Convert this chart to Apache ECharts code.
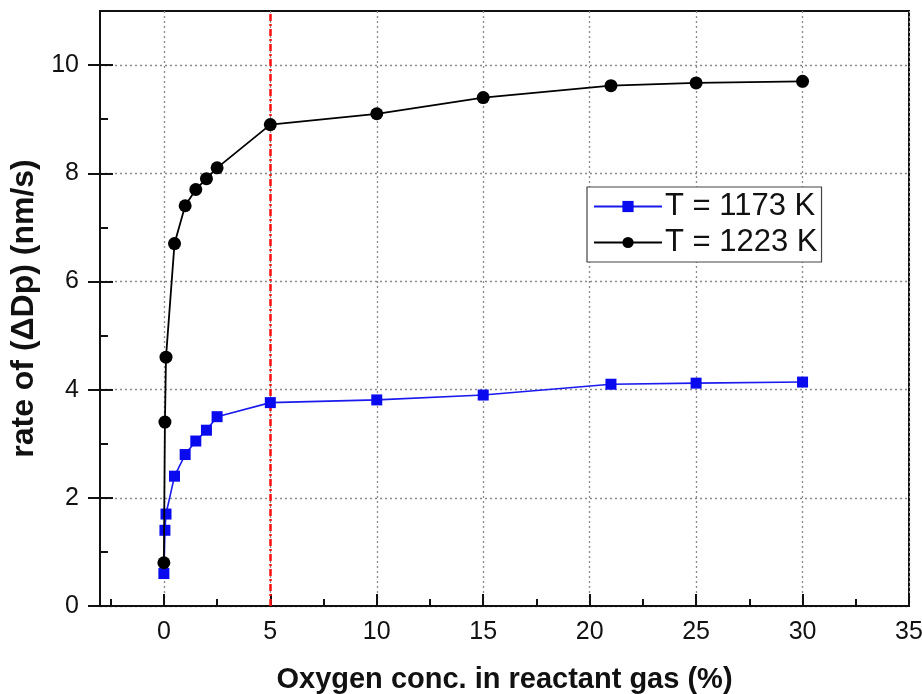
<!DOCTYPE html>
<html>
<head>
<meta charset="utf-8">
<script src="https://cdn.jsdelivr.net/npm/echarts@6/dist/echarts.min.js"></script>
<style>
  html, body { margin: 0; padding: 0; background: #fff; }
  #chart { width: 922px; height: 694px; }
</style>
</head>
<body>
<div id="chart"></div>
<script>
// Oxygen concentration (%) for each measured point
const oxygen = [0, 0.05, 0.1, 0.5, 1, 1.5, 2, 2.5, 5, 10, 15, 21, 25, 30];
// Growth rate of ΔDp (nm/s) at each temperature
const rate1173 = [0.6, 1.4, 1.7, 2.4, 2.8, 3.05, 3.25, 3.5, 3.76, 3.81, 3.9, 4.1, 4.12, 4.14];
const rate1223 = [0.8, 3.4, 4.6, 6.7, 7.4, 7.7, 7.9, 8.1, 8.9, 9.1, 9.4, 9.62, 9.67, 9.7];
const seriesNames = ['T = 1173 K', 'T = 1223 K'];
// Axis ticks
const xMajorTicks = [0, 5, 10, 15, 20, 25, 30, 35];
const xMinorTicks = [-2.5, 2.5, 7.5, 12.5, 17.5, 22.5, 27.5, 32.5];
const yMajorTicks = [0, 2, 4, 6, 8, 10];
const yMinorTicks = [1, 3, 5, 7, 9];
const markerX = 5;

const FONT = 'Liberation Sans, Arial, sans-serif';
const gridRect = { left: 100, top: 11, right: 13, bottom: 88, outerBoundsMode: 'none', containLabel: false };
const X_MIN = -3, X_MAX = 35, Y_MIN = 0, Y_MAX = 11;

const toPairs = (xs, ys) => xs.map((x, i) => [x, ys[i]]);
const dotted = { color: '#8a8a8a', width: 1.3, type: [2, 3] };
const noLine = { show: false, onZero: false };
const hiddenX = (grid) => ({
  gridIndex: grid, type: 'value', min: X_MIN, max: X_MAX,
  axisLine: noLine, axisTick: { show: false },
  axisLabel: { show: false }, splitLine: { show: false }
});

const chart = echarts.init(document.getElementById('chart'), null, { renderer: 'canvas' });

chart.setOption({
  animation: false,
  backgroundColor: '#fff',
  textStyle: { fontFamily: FONT },
  grid: [
    Object.assign({ show: true, borderColor: '#111', borderWidth: 2, backgroundColor: 'transparent' }, gridRect),
    Object.assign({}, gridRect),
    Object.assign({}, gridRect)
  ],
  xAxis: [
    {
      gridIndex: 0, type: 'value', min: X_MIN, max: X_MAX,
      name: 'Oxygen conc. in reactant gas (%)',
      nameLocation: 'middle', nameGap: 59,
      nameTextStyle: { fontFamily: FONT, fontSize: 29, fontWeight: 'bold', color: '#111' },
      axisLine: { show: true, onZero: false, lineStyle: { color: '#111', width: 2 } },
      axisTick: { show: true, inside: true, length: 12, customValues: xMajorTicks, lineStyle: { color: '#111', width: 2 } },
      axisLabel: { show: true, customValues: xMajorTicks, fontFamily: FONT, fontSize: 25, color: '#111', margin: 14 },
      splitLine: { show: true, lineStyle: dotted }
    },
    {
      gridIndex: 1, type: 'value', min: X_MIN, max: X_MAX,
      axisLine: noLine,
      axisTick: { show: true, inside: true, length: 7, customValues: xMinorTicks, lineStyle: { color: '#111', width: 2 } },
      axisLabel: { show: false }, splitLine: { show: false }
    },
    hiddenX(2)
  ],
  yAxis: [
    {
      gridIndex: 0, type: 'value', min: Y_MIN, max: Y_MAX,
      name: 'rate of (ΔDp) (nm/s)',
      nameLocation: 'middle', nameGap: 53, nameRotate: 90,
      nameTextStyle: { fontFamily: FONT, fontSize: 32, fontWeight: 'bold', color: '#111' },
      axisLine: { show: true, onZero: false, lineStyle: { color: '#111', width: 2 } },
      axisTick: { show: true, inside: false, length: 12, customValues: yMajorTicks, lineStyle: { color: '#111', width: 2 } },
      axisLabel: { show: true, customValues: yMajorTicks, fontFamily: FONT, fontSize: 25, color: '#111', margin: 21 },
      splitLine: { show: true, lineStyle: dotted }
    },
    {
      gridIndex: 1, type: 'value', min: Y_MIN, max: Y_MAX,
      axisLine: noLine,
      axisTick: { show: true, inside: true, length: 13, customValues: yMajorTicks, lineStyle: { color: '#111', width: 2 } },
      axisLabel: { show: false }, splitLine: { show: false }
    },
    {
      gridIndex: 2, type: 'value', min: Y_MIN, max: Y_MAX,
      axisLine: noLine,
      axisTick: { show: true, inside: true, length: 8, customValues: yMinorTicks, lineStyle: { color: '#111', width: 2 } },
      axisLabel: { show: false }, splitLine: { show: false }
    }
  ],
  legend: {
    left: 587, top: 187,
    orient: 'vertical',
    data: seriesNames,
    backgroundColor: '#fff',
    borderColor: '#444', borderWidth: 1.2, borderRadius: 0,
    padding: [4, 4, 4, 6],
    itemWidth: 68, itemHeight: 14, itemGap: 5,
    textStyle: { fontFamily: FONT, fontSize: 31, color: '#111', padding: [0, 0, 0, -2] }
  },
  series: [
    {
      name: seriesNames[0], type: 'line',
      xAxisIndex: 0, yAxisIndex: 0,
      data: toPairs(oxygen, rate1173),
      symbol: 'rect', symbolSize: 11,
      itemStyle: { color: '#0a0aee' },
      lineStyle: { color: '#1a1aee', width: 1.6 },
      z: 3,
      markLine: {
        silent: true, symbol: 'none', animation: false,
        label: { show: false },
        lineStyle: { color: '#ff1010', width: 2.5, type: [7, 3, 2, 3] },
        data: [{ xAxis: markerX }],
        z: 2
      }
    },
    {
      name: seriesNames[1], type: 'line',
      xAxisIndex: 0, yAxisIndex: 0,
      data: toPairs(oxygen, rate1223),
      symbol: 'circle', symbolSize: 13,
      itemStyle: { color: '#000' },
      lineStyle: { color: '#000', width: 1.8 },
      z: 4
    }
  ]
});
</script>
</body>
</html>
